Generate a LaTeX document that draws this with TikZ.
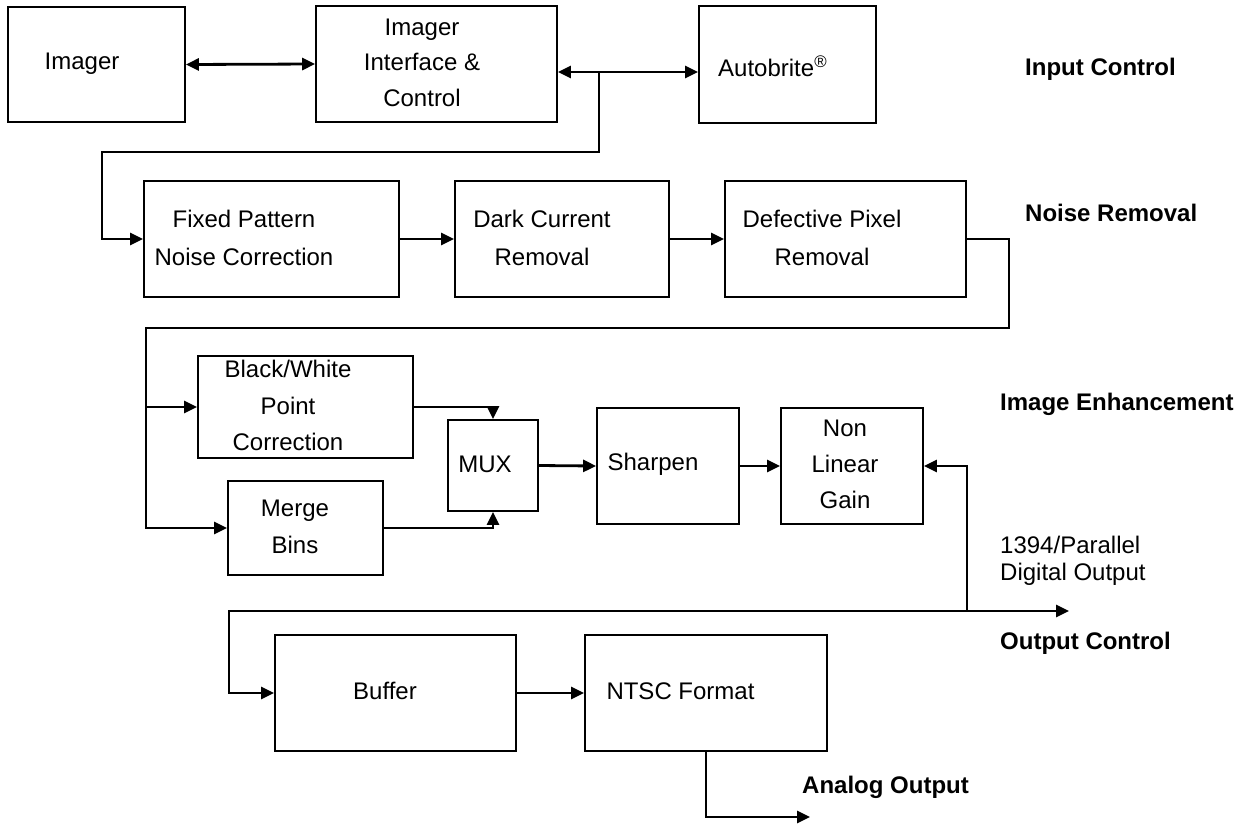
\documentclass[tikz,border=0pt]{standalone}
\usepackage{fontspec}
\setmainfont{Liberation Sans}
\usetikzlibrary{arrows.meta}
\begin{document}
\begin{tikzpicture}[x=1pt,y=-1pt,
  box/.style 2 args={draw, line width=1.8pt, inner sep=0pt, minimum width=#1, minimum height=#2},
  lbl/.style={inner sep=0pt, font=\fontsize{24}{36.5}\selectfont, align=center},
  head/.style={inner sep=0pt, font=\fontsize{24}{28}\selectfont\bfseries, anchor=west},
  conn/.style={line width=2.8pt},
  arr/.style={conn, -{Triangle[length=13pt,width=12pt]}},
  dbl/.style={conn, {Triangle[length=13pt,width=12pt]}-{Triangle[length=13pt,width=12pt]}}
]
\fill[white] (0,0) rectangle (1254,823);
\useasboundingbox (0,0) rectangle (1254,823);

% boxes
\node[box={177}{115}] (imager) at (96.5,64.5) {};
\node[box={241}{116}] (iface) at (436.5,64) {};
\node[box={177}{117}] (auto) at (787.5,64.5) {};
\node[box={255}{116}] (fixed) at (271.5,239) {};
\node[box={214}{116}] (dark) at (562,239) {};
\node[box={241}{116}] (defect) at (845.5,239) {};
\node[box={215}{102}] (bw) at (305.5,407) {};
\node[box={155}{94}] (merge) at (305.5,528) {};
\node[box={90}{91}] (mux) at (493,465.5) {};
\node[box={142}{116}] (sharpen) at (668,466) {};
\node[box={142}{116}] (nonlin) at (852,466) {};
\node[box={241}{116}] (buffer) at (395.5,693) {};
\node[box={242}{116}] (ntsc) at (706,693) {};

% box texts
\node[lbl] (imager-t) at (82,64) {Imager};
\node[lbl, font=\fontsize{24}{35.5}\selectfont] (iface-t) at (422,62.5) {Imager\\Interface \&\\Control};
\node[lbl, anchor=west] (auto-t) at (718,66) {Autobrite\textsuperscript{®}};
\node[lbl, font=\fontsize{24}{38}\selectfont] (fixed-t) at (244,238) {Fixed Pattern\\Noise Correction};
\node[lbl, font=\fontsize{24}{38}\selectfont] (dark-t) at (542,238) {Dark Current\\Removal};
\node[lbl, font=\fontsize{24}{38}\selectfont] (defect-t) at (822,238) {Defective Pixel\\Removal};
\node[lbl] (bw-t) at (288,405.5) {Black/White\\Point\\Correction};
\node[lbl, font=\fontsize{24}{37}\selectfont] (merge-t) at (295,526.5) {Merge\\Bins};
\node[lbl] (mux-t) at (485,464) {MUX};
\node[lbl] (sharpen-t) at (653,464) {Sharpen};
\node[lbl, font=\fontsize{24}{36}\selectfont] (nonlin-t) at (845,464) {Non\\Linear\\Gain};
\node[lbl] (buffer-t) at (385,691) {Buffer};
\node[lbl] (ntsc-t) at (680.5,691) {NTSC Format};

% section labels
\node[head] (h1) at (1025,69) {Input Control};
\node[head] (h2) at (1025,213) {Noise Removal};
\node[head] (h3) at (1000,404) {Image Enhancement};
\node[head] (h4) at (1000,643) {Output Control};
\node[head] (h5) at (802,787) {Analog Output};
\node[lbl, anchor=west, align=left, font=\fontsize{24}{27}\selectfont] (dig) at (1000,560.5) {1394/Parallel\\Digital Output};

% connectors
\draw[dbl] (imager.east) -- (iface.west);
\coordinate (j1) at (599,72);
\draw[dbl] (iface.east |- j1) -- (auto.west |- j1);
\coordinate (c1) at (102,152);
\draw[arr] (j1) |- (c1) |- (fixed.west);
\draw[arr] (fixed.east) -- (dark.west);
\draw[arr] (dark.east) -- (defect.west);
\coordinate (c2) at (1009,328);
\coordinate (c3) at (146,328);
\draw[arr] (defect.east) -| (c2) -- (c3) |- (merge.west);
\draw[arr] (c3 |- bw.west) -- (bw.west);
\draw[arr] (bw.east) -| (mux.north);
\draw[arr] (merge.east) -| (mux.south);
\draw[arr] (mux.east) -- (sharpen.west);
\draw[arr] (sharpen.east) -- (nonlin.west);
\coordinate (j2) at (967,611);
\coordinate (o1) at (1069,611);
\coordinate (c4) at (229,611);
\draw[arr] (j2) -- (o1);
\draw[arr] (j2) |- (nonlin.east);
\draw[arr] (j2) -- (c4) |- (buffer.west);
\draw[arr] (buffer.east) -- (ntsc.west);
\coordinate (o2) at (810,817);
\draw[arr] (ntsc.south) |- (o2);
\end{tikzpicture}
\end{document}
